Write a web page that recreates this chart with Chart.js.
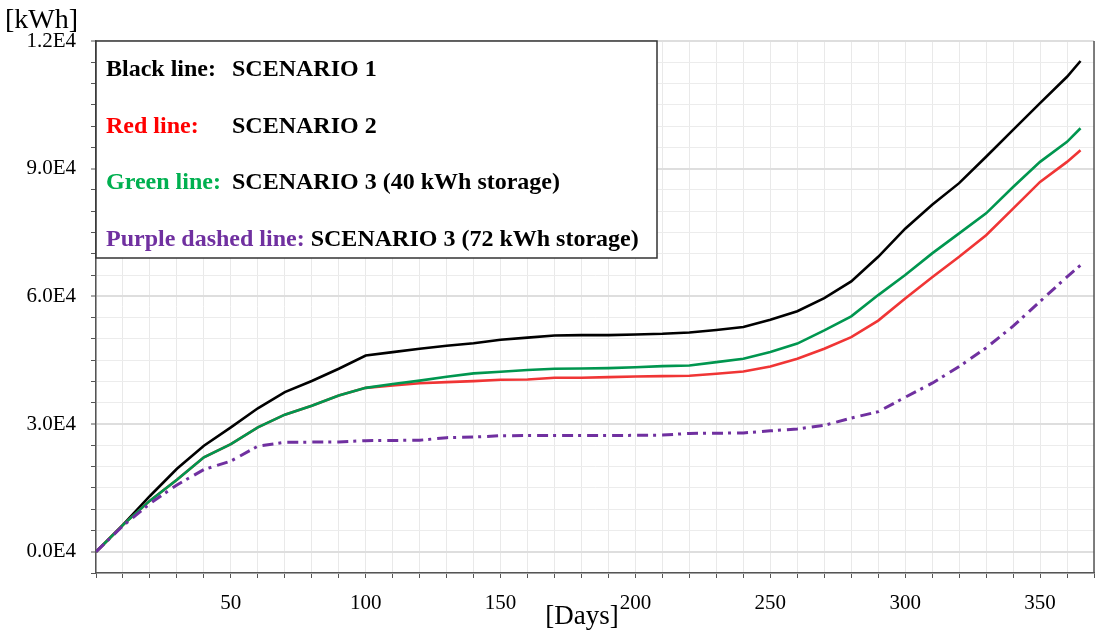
<!DOCTYPE html>
<html>
<head>
<meta charset="utf-8">
<script src="https://cdn.jsdelivr.net/npm/chart.js@4/dist/chart.umd.min.js"></script>
<style>
  html, body { margin: 0; padding: 0; background: #fff; }
  #wrap { width: 1107px; height: 637px; }
</style>
</head>
<body>
<div id="wrap"><canvas id="c" width="1107" height="637"></canvas></div>
<script>
// Day of year at which each cumulative value is sampled
const days = [0, 10, 20, 30, 40, 50, 60, 70, 80, 90, 100, 110, 120, 130, 140, 150, 160, 170, 180,
  190, 200, 210, 220, 230, 240, 250, 260, 270, 280, 290, 300, 310, 320, 330, 340, 350, 360, 365];

// Cumulative energy [kWh]
const scenario1 = [0, 6300, 13100, 19500, 24900, 29200, 33700, 37500, 40100, 43000, 46100, 46900,
  47700, 48400, 49000, 49800, 50300, 50800, 50900, 50900, 51050, 51200, 51500, 52100, 52800, 54500,
  56500, 59600, 63500, 69300, 75900, 81500, 86600, 92800, 99100, 105400, 111600, 115300];

const scenario2 = [0, 6300, 12000, 16900, 22200, 25300, 29200, 32200, 34300, 36700, 38500, 39060,
  39600, 39840, 40080, 40400, 40470, 40870, 40870, 41020, 41180, 41250, 41330, 41800, 42350, 43530,
  45340, 47700, 50430, 54300, 59500, 64500, 69300, 74350, 80600, 86900, 91600, 94350];

const scenario3Storage40 = [0, 6300, 12000, 16900, 22200, 25300, 29200, 32200, 34300, 36700, 38500,
  39400, 40200, 41100, 41900, 42300, 42700, 43000, 43050, 43130, 43350, 43600, 43770, 44550, 45350,
  46900, 48900, 52000, 55300, 60300, 65000, 70100, 74800, 79500, 85700, 91600, 96300, 99500];

const scenario3Storage72 = [0, 6100, 11300, 15700, 19300, 21300, 24800, 25700, 25750, 25800, 26100,
  26150, 26200, 26800, 26950, 27250, 27300, 27300, 27300, 27300, 27350, 27400, 27800, 27850, 27900,
  28400, 28850, 29700, 31400, 32900, 36300, 39600, 43500, 47900, 53000, 58800, 64600, 67300];

// Axis labelling
const yTickValues = [0, 30000, 60000, 90000, 120000];
const yTickLabels = ['0.0E4', '3.0E4', '6.0E4', '9.0E4', '1.2E4'];
const xTickLabels = [50, 100, 150, 200, 250, 300, 350];
const yUnit = '[kWh]';
const xUnit = '[Days]';

// Legend rows: coloured key followed by scenario description
const legendKeys = ['Black line:', 'Red line:', 'Green line:', 'Purple dashed line:'];
const legendTexts = ['SCENARIO 1', 'SCENARIO 2', 'SCENARIO 3 (40 kWh storage)', 'SCENARIO 3 (72 kWh storage)'];
const legendColors = ['#000000', '#ff0000', '#00b050', '#7030a0'];

const SERIF = '"Liberation Serif", "Times New Roman", serif';

function pts(values) {
  return days.map((d, i) => ({ x: d, y: values[i] }));
}

const overlay = {
  id: 'overlay',
  afterDraw(chart) {
    const ctx = chart.ctx;
    const area = chart.chartArea;
    ctx.save();

    // right frame line
    ctx.strokeStyle = '#555';
    ctx.lineWidth = 1.5;
    ctx.beginPath();
    ctx.moveTo(area.right, area.top);
    ctx.lineTo(area.right, area.bottom);
    ctx.stroke();

    // unit labels
    ctx.fillStyle = '#000';
    ctx.font = '28px ' + SERIF;
    ctx.textAlign = 'left';
    ctx.textBaseline = 'alphabetic';
    ctx.fillText(yUnit, 5, 28);
    ctx.font = '27px ' + SERIF;
    ctx.textAlign = 'center';
    ctx.fillText(xUnit, 582, 624);

    // legend box
    const bx = area.left, by = area.top, bw = 561, bh = 217;
    ctx.fillStyle = '#fff';
    ctx.fillRect(bx, by, bw, bh);
    ctx.strokeStyle = '#333';
    ctx.lineWidth = 1.5;
    ctx.strokeRect(bx, by, bw, bh);

    ctx.font = 'bold 24px ' + SERIF;
    ctx.textAlign = 'left';
    ctx.textBaseline = 'middle';
    const rowY = [70, 127, 183, 240];
    const col = 232;
    legendKeys.forEach((k, i) => {
      ctx.fillStyle = legendColors[i];
      ctx.fillText(k, bx + 10, rowY[i]);
      const w = ctx.measureText(k).width;
      const tx = Math.max(col, bx + 10 + w + 6);
      ctx.fillStyle = '#000';
      ctx.fillText(legendTexts[i], tx, rowY[i]);
    });
    ctx.restore();
  }
};

new Chart(document.getElementById('c'), {
  type: 'line',
  data: {
    datasets: [
      { label: legendTexts[0], data: pts(scenario1), borderColor: '#000000', borderWidth: 2.6, order: 3 },
      { label: legendTexts[1], data: pts(scenario2), borderColor: '#f03535', borderWidth: 2.6, order: 2 },
      { label: legendTexts[2], data: pts(scenario3Storage40), borderColor: '#00964f', borderWidth: 2.6, order: 1 },
      { label: legendTexts[3], data: pts(scenario3Storage72), borderColor: '#7030a0', borderWidth: 3,
        borderDash: [11, 5, 3, 6], order: 0 }
    ]
  },
  options: {
    responsive: false,
    animation: false,
    devicePixelRatio: 1,
    layout: { padding: { top: 41, right: 1, left: 0, bottom: 0 } },
    elements: { point: { radius: 0 }, line: { tension: 0, fill: false, borderCapStyle: 'butt' } },
    plugins: { legend: { display: false }, tooltip: { enabled: false }, title: { display: false } },
    scales: {
      x: {
        type: 'linear',
        min: 0,
        max: 370,
        afterFit(scale) { scale.height = 64; },
        border: { display: true, color: '#555', width: 1.5 },
        grid: { color: '#e9e9e9', lineWidth: 1, tickColor: '#555', tickLength: 5, tickWidth: 1 },
        ticks: {
          stepSize: 10,
          autoSkip: false,
          maxRotation: 0,
          maxTicksLimit: 100,
          padding: 13,
          color: '#000',
          font: { family: SERIF, size: 21 },
          callback: (v) => xTickLabels.includes(v) ? String(v) : ''
        }
      },
      y: {
        type: 'linear',
        min: -5000,
        max: 120000,
        afterFit(scale) { scale.width = 96; },
        border: { display: true, color: '#555', width: 1.5 },
        grid: {
          color: (c) => yTickValues.includes(c.tick && c.tick.value) ? '#dedede' : '#ececec',
          lineWidth: (c) => yTickValues.includes(c.tick && c.tick.value) ? 2 : 1,
          tickColor: '#555', tickLength: 5, tickWidth: 1
        },
        ticks: {
          stepSize: 5000,
          autoSkip: false,
          maxTicksLimit: 100,
          padding: 15,
          color: '#000',
          font: { family: SERIF, size: 21 },
          callback: (v) => {
            const i = yTickValues.indexOf(v);
            return i >= 0 ? yTickLabels[i] : '';
          }
        }
      }
    }
  },
  plugins: [overlay]
});
</script>
</body>
</html>
